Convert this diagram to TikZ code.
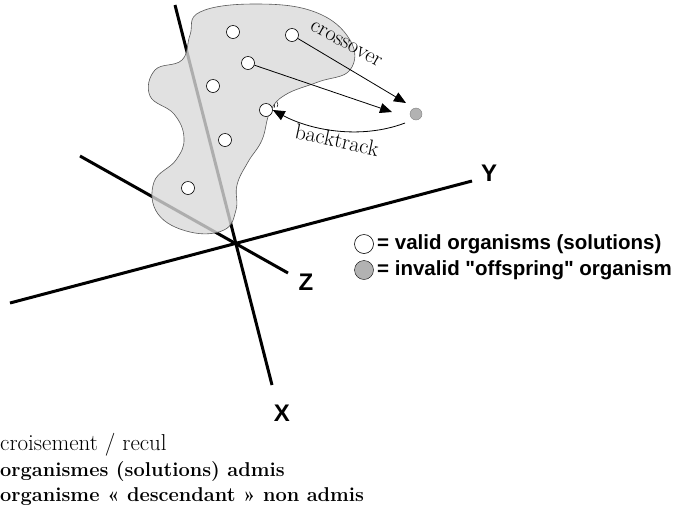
\documentclass[tikz,border=0pt]{standalone}
\usepackage{fontspec}
\newfontfamily\lsans{Liberation Sans}
\usepackage{tikz}
\usetikzlibrary{arrows.meta}

\tikzset{
  axis/.style={line width=3pt, black},
  org/.style={draw, circle, fill=white, inner sep=0pt, minimum size=13pt, line width=0.6pt},
  bad/.style={draw=gray, circle, fill=gray!60, inner sep=0pt, minimum size=12pt},
  lbl/.style={font=\lsans\bfseries\fontsize{24}{24}\selectfont, inner sep=0pt},
  leg/.style={font=\lsans\bfseries\fontsize{20.5}{20.5}\selectfont, anchor=west, inner sep=0pt},
  txt/.style={font=\fontsize{23}{23}\selectfont, anchor=west, inner sep=0pt},
  arr/.style={-{Triangle[length=12pt,width=10pt]}, line width=0.8pt},
}

\begin{document}
\begin{tikzpicture}[x=1pt, y=-1pt]
        \useasboundingbox (0,0) rectangle (685,523);
        % axes
        \coordinate (xa) at (175,5);
        \coordinate (xb) at (272,385);
        \coordinate (ya) at (10,303);
        \coordinate (yb) at (472,181);
        \coordinate (za) at (80,156);
        \coordinate (zb) at (288,273);
        \draw [axis] (xa) -- (xb);
        \draw [axis] (ya) -- (yb);
        \draw [axis] (za) -- (zb);
        \node [lbl] (X) at (282,413) {X};
        \node [lbl] (Y) at (489,173) {Y};
        \node [lbl] (Z) at (306,282) {Z};
        % solution region
        \fill [gray!30, opacity=0.8] plot [smooth cycle, tension=0.7] coordinates {
            (200,12) (255,4) (315,12) (350,40) (350,70) (318,82) (285,95) (270,112)
            (262,140) (248,162) (237,185) (236,210) (224,230) (190,232) (158,214)
            (154,182) (176,160) (184,138) (174,114) (150,96) (155,70) (182,60) (190,35)};
        \draw [gray!70!black, line width=0.6pt] plot [smooth cycle, tension=0.7] coordinates {
            (200,12) (255,4) (315,12) (350,40) (350,70) (318,82) (285,95) (270,112)
            (262,140) (248,162) (237,185) (236,210) (224,230) (190,232) (158,214)
            (154,182) (176,160) (184,138) (174,114) (150,96) (155,70) (182,60) (190,35)};
        % organisms
        \node [org] (o1) at (233,32) {};
        \node [org] (o2) at (292,35) {};
        \node [org] (o3) at (248,63) {};
        \node [org] (o4) at (213,86) {};
        \node [org] (o5) at (266,110) {};
        \node [org] (o6) at (225,140) {};
        \node [org] (o7) at (188,188) {};
        \node [bad] (off) at (416,114) {};
        \coordinate (t1) at (406,103);
        \coordinate (t2) at (392,112);
        \coordinate (bs) at (405,123);
        \draw [arr] (o2) -- (t1);
        \draw [arr] (o3) -- (t2);
        \draw [arr] (bs) .. controls (360,140) and (310,130) .. (o5.east);
        \draw [line width=0.5pt] (274,104) arc (-40:40:3) (277,102) arc (-40:40:4);
        \node [rotate=-29, font=\fontsize{22}{22}\selectfont] (cross) at (346,44) {crossover};
        \node [rotate=-12, font=\fontsize{22}{22}\selectfont] (back) at (337,140) {backtrack};
        % legend
        \node [org, minimum size=19pt] (lv) at (364,244) {};
        \node [bad, minimum size=19pt, draw=black] (li) at (364,270) {};
        \node [leg] (tv) at (377,244) {= valid organisms (solutions)};
        \node [leg] (ti) at (377,270) {= invalid "offspring" organism};
        % translation
        \node [txt] (c1) at (0,445) {croisement / recul};
        \node [txt, font=\bfseries\fontsize{20}{20}\selectfont] (c2) at (0,471) {organismes (solutions) admis};
        \node [txt, font=\bfseries\fontsize{20}{20}\selectfont] (c3) at (0,497) {organisme « descendant » non admis};
\end{tikzpicture}
\end{document}
